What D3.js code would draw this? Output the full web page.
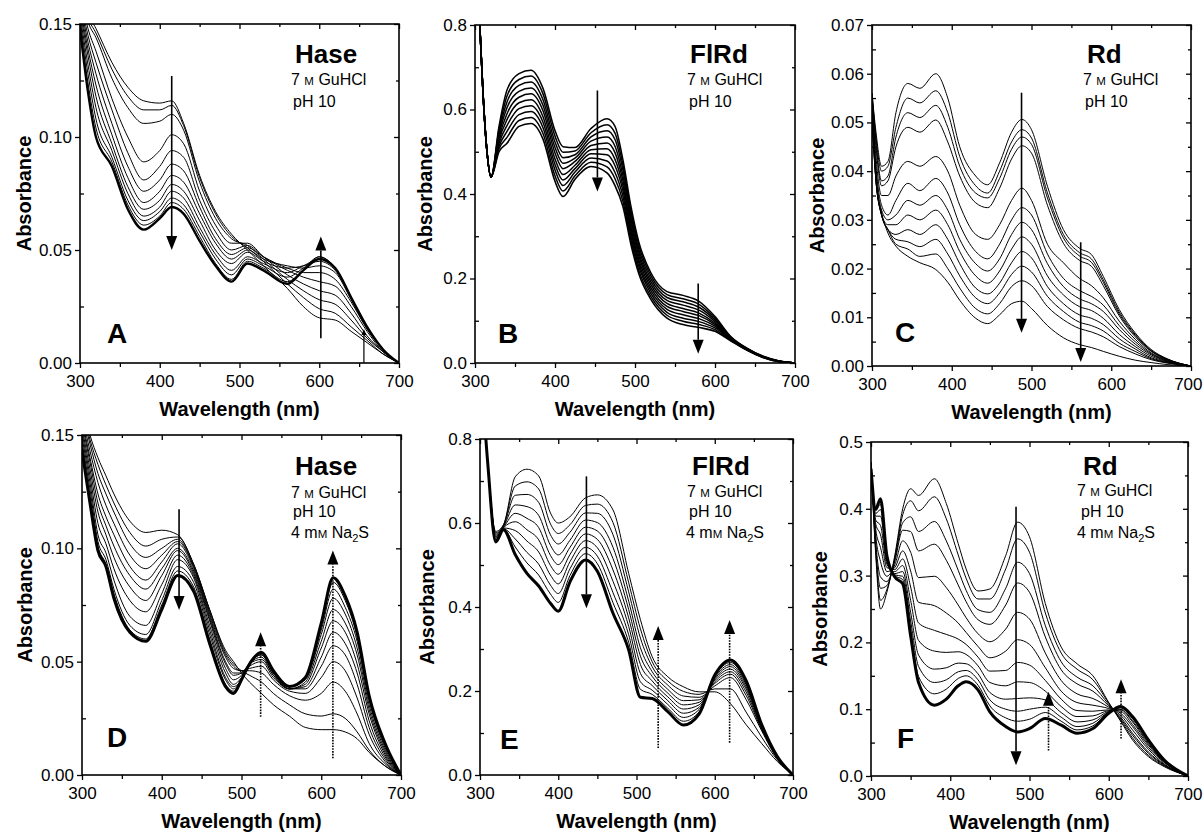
<!DOCTYPE html>
<html>
<head>
<meta charset="utf-8">
<script src="https://cdn.jsdelivr.net/npm/d3@7"></script>
<style>
  body { margin: 0; background: #fff; }
</style>
</head>
<body>
<div id="chart"></div>
<script>
// spectra: one wavelength list per panel, one row per scan (first scan first)

const wlA = [300,310,320,340,360,380,400,415,430,450,470,490,510,530,560,580,600,620,640,660,680,700];
const absA = [
  [0.170,0.155,0.148,0.133,0.122,0.116,0.115,0.116,0.106,0.083,0.067,0.057,0.050,0.043,0.033,0.025,0.020,0.019,0.014,0.009,0.004,0],
  [0.168,0.153,0.146,0.130,0.118,0.112,0.112,0.114,0.105,0.082,0.066,0.056,0.051,0.045,0.035,0.029,0.024,0.022,0.016,0.010,0.004,0],
  [0.166,0.151,0.144,0.126,0.113,0.106,0.107,0.110,0.103,0.080,0.064,0.055,0.052,0.046,0.037,0.032,0.028,0.026,0.019,0.011,0.005,0],
  [0.164,0.148,0.138,0.117,0.100,0.089,0.094,0.101,0.097,0.076,0.061,0.053,0.053,0.047,0.039,0.035,0.032,0.030,0.022,0.012,0.005,0],
  [0.162,0.145,0.133,0.112,0.093,0.081,0.087,0.094,0.091,0.072,0.058,0.050,0.052,0.047,0.041,0.038,0.036,0.034,0.025,0.014,0.005,0],
  [0.160,0.142,0.128,0.106,0.087,0.076,0.081,0.088,0.085,0.069,0.055,0.048,0.051,0.047,0.042,0.040,0.040,0.037,0.027,0.015,0.006,0],
  [0.158,0.139,0.123,0.101,0.082,0.071,0.076,0.083,0.080,0.066,0.053,0.046,0.050,0.046,0.043,0.042,0.043,0.040,0.028,0.015,0.006,0],
  [0.156,0.136,0.118,0.097,0.078,0.068,0.072,0.079,0.076,0.063,0.050,0.044,0.049,0.045,0.042,0.043,0.045,0.041,0.029,0.016,0.006,0],
  [0.154,0.132,0.113,0.094,0.075,0.065,0.069,0.076,0.073,0.060,0.048,0.041,0.047,0.044,0.040,0.043,0.046,0.042,0.029,0.016,0.006,0],
  [0.152,0.128,0.108,0.091,0.072,0.063,0.067,0.073,0.070,0.058,0.046,0.039,0.046,0.043,0.038,0.042,0.047,0.042,0.029,0.016,0.006,0],
  [0.150,0.124,0.104,0.089,0.070,0.061,0.065,0.071,0.068,0.056,0.044,0.037,0.045,0.042,0.036,0.041,0.047,0.042,0.029,0.016,0.006,0],
  [0.148,0.120,0.100,0.087,0.068,0.059,0.064,0.069,0.066,0.054,0.043,0.036,0.044,0.041,0.035,0.041,0.046,0.042,0.029,0.016,0.006,0]
];

const wlB = [302,306,310,315,320,330,340,355,370,385,400,410,425,445,465,475,485,495,505,520,540,560,580,600,620,640,660,680,700];
const absB = [
  [0.95,0.80,0.64,0.50,0.44,0.560,0.646,0.685,0.693,0.650,0.550,0.512,0.510,0.555,0.578,0.560,0.480,0.370,0.285,0.213,0.169,0.160,0.146,0.110,0.062,0.035,0.016,0.005,0],
  [0.95,0.80,0.64,0.50,0.44,0.553,0.632,0.671,0.679,0.637,0.537,0.499,0.502,0.545,0.564,0.544,0.468,0.360,0.277,0.206,0.162,0.152,0.139,0.106,0.061,0.034,0.016,0.005,0],
  [0.95,0.80,0.64,0.50,0.44,0.547,0.618,0.657,0.665,0.623,0.523,0.486,0.493,0.535,0.550,0.529,0.456,0.350,0.268,0.199,0.155,0.145,0.132,0.102,0.060,0.034,0.015,0.005,0],
  [0.95,0.80,0.64,0.50,0.44,0.540,0.604,0.643,0.651,0.610,0.510,0.473,0.485,0.525,0.535,0.513,0.443,0.340,0.260,0.192,0.148,0.137,0.125,0.098,0.059,0.033,0.015,0.004,0],
  [0.95,0.80,0.64,0.50,0.44,0.533,0.590,0.629,0.637,0.597,0.497,0.460,0.477,0.515,0.521,0.498,0.431,0.330,0.252,0.185,0.141,0.129,0.118,0.094,0.058,0.033,0.015,0.004,0],
  [0.95,0.80,0.64,0.50,0.44,0.527,0.576,0.616,0.623,0.583,0.483,0.446,0.468,0.505,0.507,0.482,0.419,0.320,0.243,0.178,0.134,0.122,0.112,0.091,0.057,0.032,0.014,0.004,0],
  [0.95,0.80,0.64,0.50,0.44,0.520,0.562,0.602,0.609,0.570,0.470,0.433,0.460,0.495,0.493,0.467,0.407,0.310,0.235,0.171,0.127,0.114,0.105,0.087,0.056,0.032,0.014,0.004,0],
  [0.95,0.80,0.64,0.50,0.44,0.513,0.548,0.588,0.595,0.557,0.457,0.420,0.452,0.485,0.478,0.451,0.394,0.300,0.227,0.164,0.120,0.106,0.098,0.083,0.055,0.031,0.014,0.004,0],
  [0.95,0.80,0.64,0.50,0.44,0.507,0.534,0.574,0.581,0.543,0.443,0.407,0.443,0.475,0.464,0.436,0.382,0.290,0.218,0.157,0.113,0.099,0.091,0.079,0.053,0.031,0.013,0.003,0],
  [0.95,0.80,0.64,0.50,0.44,0.500,0.520,0.560,0.567,0.530,0.430,0.394,0.435,0.465,0.450,0.420,0.370,0.280,0.210,0.150,0.106,0.091,0.084,0.075,0.052,0.030,0.013,0.003,0]
];

const wlC = [300,305,312,320,330,345,360,380,395,410,430,445,460,475,488,500,520,540,560,575,590,610,630,650,670,700];
const absC = [
  [0.056,0.048,0.041,0.042,0.052,0.058,0.057,0.060,0.055,0.045,0.039,0.0372,0.0417,0.048,0.0506,0.0485,0.0369,0.028,0.0242,0.0229,0.0184,0.0116,0.0068,0.0034,0.0015,0],
  [0.056,0.047,0.040,0.041,0.049,0.055,0.054,0.0565,0.052,0.043,0.037,0.0355,0.040,0.046,0.0485,0.0468,0.0355,0.027,0.0233,0.022,0.0177,0.0111,0.0065,0.0032,0.0014,0],
  [0.056,0.046,0.038,0.039,0.047,0.052,0.051,0.0535,0.049,0.041,0.0355,0.0345,0.0385,0.0445,0.047,0.0455,0.0345,0.0263,0.0226,0.0213,0.0172,0.0107,0.0063,0.0031,0.0014,0],
  [0.055,0.045,0.037,0.038,0.045,0.049,0.048,0.0505,0.046,0.039,0.0335,0.0325,0.0365,0.0425,0.0452,0.0437,0.033,0.0252,0.0217,0.0205,0.0165,0.0103,0.006,0.003,0.0013,0],
  [0.055,0.043,0.035,0.035,0.039,0.042,0.041,0.043,0.040,0.033,0.027,0.026,0.029,0.034,0.0365,0.034,0.025,0.0212,0.018,0.0165,0.014,0.0092,0.0055,0.0027,0.0012,0],
  [0.054,0.041,0.033,0.031,0.034,0.0375,0.036,0.0385,0.0355,0.029,0.0235,0.022,0.025,0.030,0.0325,0.031,0.023,0.018,0.0155,0.0143,0.0125,0.0083,0.005,0.0025,0.0011,0],
  [0.054,0.040,0.032,0.030,0.031,0.034,0.033,0.035,0.032,0.026,0.021,0.0195,0.022,0.027,0.0295,0.028,0.021,0.0163,0.0138,0.0128,0.0112,0.0075,0.0045,0.0023,0.001,0],
  [0.053,0.039,0.031,0.029,0.029,0.031,0.030,0.032,0.029,0.0235,0.0185,0.017,0.0195,0.024,0.0265,0.025,0.0185,0.0146,0.0122,0.0114,0.0098,0.0065,0.004,0.002,0.0009,0],
  [0.053,0.038,0.031,0.028,0.027,0.028,0.027,0.029,0.026,0.021,0.016,0.0148,0.017,0.0212,0.0235,0.0222,0.0163,0.0128,0.0105,0.0098,0.0085,0.0056,0.0035,0.0017,0.0008,0],
  [0.052,0.038,0.031,0.028,0.026,0.0255,0.0245,0.026,0.023,0.0185,0.014,0.0128,0.015,0.0188,0.0205,0.0193,0.0143,0.0112,0.009,0.0083,0.0072,0.0047,0.003,0.0015,0.0007,0],
  [0.051,0.038,0.031,0.028,0.025,0.024,0.0225,0.023,0.020,0.016,0.0118,0.0107,0.0128,0.0163,0.0175,0.0165,0.0122,0.0095,0.0077,0.007,0.006,0.004,0.0025,0.0013,0.0006,0],
  [0.050,0.038,0.0315,0.0273,0.0246,0.0225,0.0212,0.0198,0.0172,0.0135,0.0098,0.0087,0.0105,0.0128,0.0133,0.0118,0.0083,0.0058,0.0044,0.0038,0.003,0.002,0.0012,0.0007,0.0003,0]
];

const wlD = [300,310,320,330,340,360,380,400,420,440,460,480,490,500,510,525,540,560,580,600,615,630,645,660,680,700];
const absD = [
  [0.165,0.150,0.140,0.132,0.124,0.112,0.107,0.108,0.106,0.093,0.073,0.055,0.050,0.045,0.041,0.036,0.031,0.026,0.021,0.020,0.020,0.019,0.016,0.010,0.004,0],
  [0.163,0.148,0.137,0.128,0.120,0.107,0.101,0.104,0.105,0.093,0.073,0.054,0.049,0.046,0.044,0.041,0.036,0.031,0.027,0.026,0.027,0.025,0.019,0.011,0.004,0],
  [0.161,0.146,0.133,0.124,0.116,0.102,0.096,0.100,0.104,0.092,0.072,0.053,0.048,0.046,0.046,0.045,0.040,0.035,0.033,0.036,0.041,0.037,0.027,0.014,0.005,0],
  [0.159,0.143,0.129,0.119,0.111,0.097,0.091,0.097,0.103,0.092,0.071,0.052,0.047,0.046,0.047,0.048,0.042,0.037,0.036,0.043,0.050,0.046,0.034,0.018,0.006,0],
  [0.157,0.140,0.124,0.114,0.106,0.092,0.086,0.094,0.102,0.091,0.070,0.050,0.045,0.045,0.048,0.050,0.043,0.038,0.038,0.048,0.057,0.053,0.040,0.021,0.007,0],
  [0.155,0.138,0.120,0.110,0.101,0.088,0.082,0.091,0.100,0.090,0.069,0.049,0.044,0.045,0.049,0.051,0.044,0.038,0.039,0.052,0.063,0.058,0.045,0.024,0.008,0],
  [0.153,0.135,0.116,0.106,0.096,0.083,0.077,0.088,0.099,0.089,0.068,0.047,0.042,0.044,0.049,0.052,0.044,0.038,0.040,0.056,0.068,0.063,0.049,0.027,0.009,0],
  [0.151,0.132,0.111,0.102,0.091,0.077,0.072,0.084,0.097,0.088,0.066,0.045,0.040,0.043,0.049,0.053,0.045,0.038,0.041,0.059,0.073,0.067,0.053,0.029,0.010,0],
  [0.149,0.129,0.106,0.098,0.086,0.070,0.066,0.080,0.095,0.087,0.064,0.043,0.039,0.042,0.049,0.053,0.045,0.039,0.042,0.062,0.078,0.071,0.056,0.031,0.011,0],
  [0.147,0.126,0.103,0.095,0.082,0.066,0.062,0.077,0.092,0.085,0.062,0.042,0.038,0.042,0.049,0.054,0.045,0.039,0.043,0.064,0.082,0.074,0.059,0.033,0.012,0],
  [0.145,0.123,0.101,0.093,0.080,0.064,0.060,0.075,0.090,0.083,0.060,0.040,0.037,0.042,0.049,0.054,0.046,0.039,0.043,0.066,0.085,0.077,0.061,0.034,0.013,0],
  [0.143,0.120,0.099,0.092,0.078,0.063,0.059,0.073,0.088,0.081,0.058,0.039,0.036,0.042,0.049,0.054,0.046,0.039,0.043,0.067,0.087,0.079,0.063,0.035,0.014,0]
];

const wlE = [300,310,320,330,345,360,375,390,400,415,435,450,470,490,505,520,540,560,580,600,620,640,660,680,700];
const absE = [
  [1.0,0.74,0.580,0.596,0.710,0.728,0.712,0.624,0.600,0.615,0.660,0.667,0.631,0.480,0.370,0.282,0.234,0.210,0.198,0.198,0.170,0.120,0.075,0.032,0],
  [1.0,0.74,0.577,0.595,0.688,0.698,0.681,0.598,0.575,0.596,0.642,0.645,0.601,0.458,0.348,0.270,0.224,0.199,0.192,0.205,0.205,0.150,0.090,0.036,0],
  [1.0,0.74,0.574,0.593,0.666,0.668,0.649,0.572,0.550,0.578,0.624,0.623,0.572,0.436,0.326,0.258,0.214,0.188,0.185,0.212,0.232,0.180,0.105,0.038,0],
  [1.0,0.74,0.571,0.592,0.643,0.639,0.618,0.547,0.524,0.559,0.607,0.601,0.542,0.414,0.303,0.246,0.204,0.177,0.179,0.218,0.240,0.190,0.108,0.040,0],
  [1.0,0.74,0.568,0.590,0.623,0.611,0.589,0.523,0.501,0.542,0.590,0.581,0.515,0.394,0.283,0.235,0.195,0.167,0.173,0.222,0.246,0.198,0.110,0.041,0],
  [1.0,0.74,0.566,0.589,0.603,0.584,0.560,0.499,0.478,0.525,0.574,0.561,0.488,0.374,0.263,0.224,0.186,0.157,0.167,0.226,0.252,0.205,0.113,0.042,0],
  [1.0,0.74,0.563,0.588,0.582,0.557,0.531,0.476,0.455,0.508,0.558,0.541,0.461,0.354,0.242,0.213,0.177,0.147,0.161,0.229,0.258,0.210,0.115,0.042,0],
  [1.0,0.74,0.560,0.586,0.562,0.530,0.502,0.452,0.432,0.491,0.542,0.521,0.434,0.334,0.222,0.202,0.168,0.137,0.156,0.232,0.263,0.215,0.117,0.043,0],
  [1.0,0.74,0.558,0.585,0.543,0.505,0.476,0.431,0.411,0.475,0.527,0.503,0.410,0.316,0.204,0.192,0.159,0.128,0.150,0.235,0.268,0.220,0.119,0.043,0],
  [1.0,0.74,0.555,0.584,0.525,0.480,0.450,0.409,0.390,0.460,0.512,0.485,0.385,0.298,0.185,0.182,0.151,0.119,0.145,0.238,0.274,0.225,0.120,0.044,0]
];

const wlF = [300,306,312,320,330,340,350,360,380,395,410,420,435,450,470,485,500,520,540,560,580,600,615,630,650,670,700];
const absF = [
  [0.470,0.330,0.250,0.275,0.330,0.400,0.430,0.420,0.445,0.408,0.348,0.310,0.277,0.280,0.330,0.380,0.358,0.258,0.193,0.168,0.150,0.110,0.082,0.054,0.029,0.014,0],
  [0.470,0.336,0.263,0.279,0.327,0.391,0.412,0.397,0.418,0.385,0.331,0.296,0.265,0.265,0.310,0.355,0.335,0.244,0.184,0.160,0.144,0.109,0.084,0.057,0.031,0.015,0],
  [0.470,0.343,0.281,0.285,0.324,0.379,0.388,0.366,0.381,0.352,0.308,0.278,0.249,0.245,0.281,0.320,0.303,0.225,0.171,0.148,0.135,0.107,0.086,0.061,0.034,0.016,0],
  [0.470,0.350,0.298,0.291,0.321,0.368,0.366,0.337,0.347,0.323,0.286,0.261,0.234,0.227,0.256,0.289,0.275,0.208,0.159,0.138,0.127,0.105,0.088,0.064,0.036,0.017,0],
  [0.470,0.360,0.321,0.299,0.316,0.352,0.335,0.297,0.299,0.282,0.256,0.237,0.213,0.201,0.220,0.245,0.235,0.184,0.143,0.123,0.116,0.103,0.091,0.069,0.040,0.018,0],
  [0.465,0.369,0.342,0.306,0.312,0.337,0.307,0.260,0.255,0.244,0.229,0.215,0.194,0.177,0.187,0.204,0.197,0.162,0.127,0.110,0.106,0.101,0.094,0.074,0.043,0.020,0],
  [0.465,0.377,0.361,0.312,0.309,0.325,0.283,0.229,0.218,0.212,0.205,0.197,0.178,0.157,0.158,0.170,0.166,0.143,0.115,0.098,0.097,0.099,0.097,0.077,0.046,0.021,0],
  [0.465,0.383,0.375,0.317,0.306,0.315,0.263,0.203,0.187,0.185,0.186,0.182,0.165,0.140,0.135,0.141,0.140,0.127,0.104,0.089,0.090,0.098,0.099,0.081,0.048,0.022,0],
  [0.462,0.389,0.389,0.321,0.303,0.306,0.245,0.181,0.160,0.162,0.169,0.168,0.153,0.125,0.115,0.116,0.117,0.114,0.095,0.081,0.084,0.097,0.100,0.083,0.050,0.022,0],
  [0.461,0.393,0.399,0.325,0.301,0.299,0.232,0.164,0.140,0.144,0.156,0.158,0.144,0.114,0.100,0.097,0.100,0.103,0.088,0.074,0.079,0.096,0.102,0.086,0.052,0.023,0],
  [0.460,0.397,0.407,0.327,0.300,0.294,0.221,0.149,0.123,0.130,0.146,0.150,0.136,0.105,0.087,0.082,0.085,0.095,0.082,0.069,0.075,0.095,0.103,0.087,0.053,0.023,0],
  [0.460,0.400,0.415,0.330,0.298,0.288,0.210,0.140,0.106,0.115,0.135,0.141,0.129,0.096,0.074,0.066,0.071,0.086,0.076,0.064,0.071,0.094,0.104,0.089,0.054,0.024,0]
];

// axis ticks
const xTicks = [300,400,500,600,700];
const xMinor = [350,450,550,650];
const yTicksHase = [0,0.05,0.10,0.15], yMinorHase = [0.025,0.075,0.125];
const yTicksFlRd = [0,0.2,0.4,0.6,0.8], yMinorFlRd = [0.1,0.3,0.5,0.7];
const yTicksRdC = [0,0.01,0.02,0.03,0.04,0.05,0.06,0.07];
const yMinorRdC = [0.005,0.015,0.025,0.035,0.045,0.055,0.065];
const yTicksRdF = [0,0.1,0.2,0.3,0.4,0.5], yMinorRdF = [0.05,0.15,0.25,0.35,0.45];

// arrows (wavelength, start and end absorbance)
const arrowsA = [{wl:415, from:0.127, to:0.050}, {wl:602, from:0.011, to:0.056}, {wl:656, from:0.0, to:0.015, small:true}];
const arrowsB = [{wl:453, from:0.645, to:0.406}, {wl:579, from:0.188, to:0.022}];
const arrowsC = [{wl:487.5, from:0.0561, to:0.0068}, {wl:561.7, from:0.0254, to:0.0008}];
const arrowsD = [{wl:421.7, from:0.1172, to:0.0728}, {wl:524, from:0.0257, to:0.063, dotted:true}, {wl:614.6, from:0.0074, to:0.099, dotted:true}];
const arrowsE = [{wl:436, from:0.711, to:0.397}, {wl:527.7, from:0.064, to:0.355, dotted:true}, {wl:619, from:0.077, to:0.369, dotted:true}];
const arrowsF = [{wl:483, from:0.403, to:0.016}, {wl:524, from:0.038, to:0.126, dotted:true}, {wl:615.5, from:0.056, to:0.145, dotted:true}];

const proteins = ["Hase","FlRd","Rd","Hase","FlRd","Rd"];
const letters = ["A","B","C","D","E","F"];
const conditionsPlain = [["7 ",{sc:"M"}," GuHCl"],["pH 10"]];
const conditionsSulfide = [["7 ",{sc:"M"}," GuHCl"],["pH 10"],["4 m",{sc:"M"}," Na",{sub:"2"},"S"]];

const FONT = "'Liberation Sans', Arial, Helvetica, sans-serif";

const panels = [
  {wl:wlA, abs:absA, yMax:0.15, yTicks:yTicksHase, yMinor:yMinorHase, fmt:".2f", arrows:arrowsA, cond:conditionsPlain,
   box:[80,399,24,363], yTitleX:24, title:[295,63], condPos:[[291,85],[293,107]], letterPos:[107,343], lw:1, lastW:2.4},
  {wl:wlB, abs:absB, yMax:0.8, yTicks:yTicksFlRd, yMinor:yMinorFlRd, fmt:".1f", arrows:arrowsB, cond:conditionsPlain,
   box:[475,795,25,363], yTitleX:425, title:[690,63], condPos:[[687,85],[689,107]], letterPos:[498,343], lw:1.5, lastW:1.6},
  {wl:wlC, abs:absC, yMax:0.07, yTicks:yTicksRdC, yMinor:yMinorRdC, fmt:".2f", arrows:arrowsC, cond:conditionsPlain,
   box:[872,1191,25,366], yTitleX:817, title:[1087,63], condPos:[[1083,85],[1085,107]], letterPos:[895,342], lw:1, lastW:1},
  {wl:wlD, abs:absD, yMax:0.15, yTicks:yTicksHase, yMinor:yMinorHase, fmt:".2f", arrows:arrowsD, cond:conditionsSulfide,
   box:[82,401,435,775], yTitleX:25, title:[295,475], condPos:[[291,498],[293,517],[291,538]], letterPos:[107,747], lw:1, lastW:3},
  {wl:wlE, abs:absE, yMax:0.8, yTicks:yTicksFlRd, yMinor:yMinorFlRd, fmt:".1f", arrows:arrowsE, cond:conditionsSulfide,
   box:[480,793,439,775], yTitleX:427, title:[692,475], condPos:[[687,497],[689,517],[686,538]], letterPos:[500,749], lw:1, lastW:3},
  {wl:wlF, abs:absF, yMax:0.5, yTicks:yTicksRdF, yMinor:yMinorRdF, fmt:".1f", arrows:arrowsF, cond:conditionsSulfide,
   box:[871,1188,442,776], yTitleX:820, title:[1083,475], condPos:[[1077,496],[1081,517],[1077,538]], letterPos:[897,748], lw:1, lastW:3}
];

const W = 1203, H = 832;
const svg = d3.select("#chart").append("svg")
  .attr("width", W).attr("height", H)
  .attr("font-family", FONT)
  .style("background", "#fff");

const defs = svg.append("defs");

panels.forEach((p, k) => {
  const [x0, x1, y0, y1] = p.box;
  const x = d3.scaleLinear().domain([300, 700]).range([x0, x1]);
  const y = d3.scaleLinear().domain([0, p.yMax]).range([y1, y0]);
  const g = svg.append("g");

  const clipId = "clip" + k;
  defs.append("clipPath").attr("id", clipId)
    .append("rect").attr("x", x0).attr("y", y0).attr("width", x1 - x0).attr("height", y1 - y0);

  const line = d3.line()
    .curve(d3.curveMonotoneX)
    .x((d, i) => x(p.wl[i]))
    .y(d => y(d));

  g.append("g").attr("clip-path", `url(#${clipId})`)
    .selectAll("path").data(p.abs).join("path")
    .attr("d", line)
    .attr("fill", "none")
    .attr("stroke", "#000")
    .attr("stroke-linejoin", "round")
    .attr("stroke-width", (d, i) => i === p.abs.length - 1 ? p.lastW : p.lw);

  // axes: bottom & left carry labels, top & right only ticks pointing in
  const styleAxis = a => {
    a.select(".domain").remove();
    a.selectAll("line").attr("stroke", "#000").attr("stroke-width", 1.3);
    a.selectAll("text").attr("font-size", 17).attr("font-family", FONT).attr("fill", "#000");
  };
  const xAxis = g.append("g").attr("transform", `translate(0,${y1})`)
    .call(d3.axisBottom(x).tickValues(xTicks).tickSize(5).tickPadding(7).tickFormat(d3.format("d"))).call(styleAxis);
  // keep the last label inside the page
  xAxis.selectAll("text").each(function () {
    const b = this.getBBox(), tx = x(+this.textContent);
    if (tx + b.width / 2 > W - 1) d3.select(this).attr("text-anchor", "end").attr("x", W - 1 - tx);
  });
  g.append("g").attr("transform", `translate(0,${y1})`)
    .call(d3.axisBottom(x).tickValues(xMinor).tickSize(4).tickFormat("")).call(styleAxis);
  g.append("g").attr("transform", `translate(0,${y0})`)
    .call(d3.axisTop(x).tickValues(xTicks).tickSize(-5).tickFormat("")).call(styleAxis);
  g.append("g").attr("transform", `translate(0,${y0})`)
    .call(d3.axisTop(x).tickValues(xMinor).tickSize(-3).tickFormat("")).call(styleAxis);
  g.append("g").attr("transform", `translate(${x0},0)`)
    .call(d3.axisLeft(y).tickValues(p.yTicks).tickSize(5).tickPadding(3).tickFormat(d3.format(p.fmt))).call(styleAxis);
  g.append("g").attr("transform", `translate(${x0},0)`)
    .call(d3.axisLeft(y).tickValues(p.yMinor).tickSize(-4).tickFormat("")).call(styleAxis);
  g.append("g").attr("transform", `translate(${x1},0)`)
    .call(d3.axisRight(y).tickValues(p.yTicks).tickSize(-5).tickFormat("")).call(styleAxis);
  g.append("g").attr("transform", `translate(${x1},0)`)
    .call(d3.axisRight(y).tickValues(p.yMinor).tickSize(-3).tickFormat("")).call(styleAxis);

  g.append("rect")
    .attr("x", x0).attr("y", y0).attr("width", x1 - x0).attr("height", y1 - y0)
    .attr("fill", "none").attr("stroke", "#000").attr("stroke-width", 1.6);

  // arrows
  p.arrows.forEach(a => {
    const ax = x(a.wl), ya = y(a.from), yb = y(a.to);
    const dir = yb > ya ? 1 : -1;
    const hl = a.small ? 6 : 14, hw = a.small ? 2.5 : 5.5;
    g.append("line")
      .attr("x1", ax).attr("x2", ax).attr("y1", ya).attr("y2", yb - dir * hl)
      .attr("stroke", "#000").attr("stroke-width", a.small ? 1.2 : 1.6)
      .attr("stroke-dasharray", a.dotted ? "1.6,1.2" : null);
    g.append("path")
      .attr("d", `M${ax},${yb} L${ax - hw},${yb - dir * hl} L${ax + hw},${yb - dir * hl} Z`)
      .attr("fill", "#000");
  });

  // labels
  g.append("text").attr("x", p.title[0]).attr("y", p.title[1])
    .attr("font-size", 26).attr("font-weight", "bold").text(proteins[k]);

  p.cond.forEach((segs, j) => {
    const t = g.append("text").attr("x", p.condPos[j][0]).attr("y", p.condPos[j][1]).attr("font-size", 16);
    let shift = 0;
    segs.forEach(s => {
      if (typeof s === "string") {
        t.append("tspan").attr("dy", shift ? -shift : null).text(s);
        shift = 0;
      } else if (s.sc) {
        t.append("tspan").attr("font-size", 11.5).text(s.sc);
      } else if (s.sub) {
        t.append("tspan").attr("font-size", 11).attr("dy", 4).text(s.sub);
        shift = 4;
      }
    });
  });

  g.append("text").attr("x", p.letterPos[0]).attr("y", p.letterPos[1])
    .attr("font-size", 28).attr("font-weight", "bold").text(letters[k]);

  g.append("text")
    .attr("x", (x0 + x1) / 2).attr("y", y1 + 53)
    .attr("text-anchor", "middle").attr("font-size", 20).attr("font-weight", "bold")
    .text("Wavelength (nm)");

  g.append("text")
    .attr("transform", `translate(${p.yTitleX},${(y0 + y1) / 2}) rotate(-90)`)
    .attr("text-anchor", "middle").attr("dy", "0.35em")
    .attr("font-size", 20).attr("font-weight", "bold")
    .text("Absorbance");
});
</script>
</body>
</html>
